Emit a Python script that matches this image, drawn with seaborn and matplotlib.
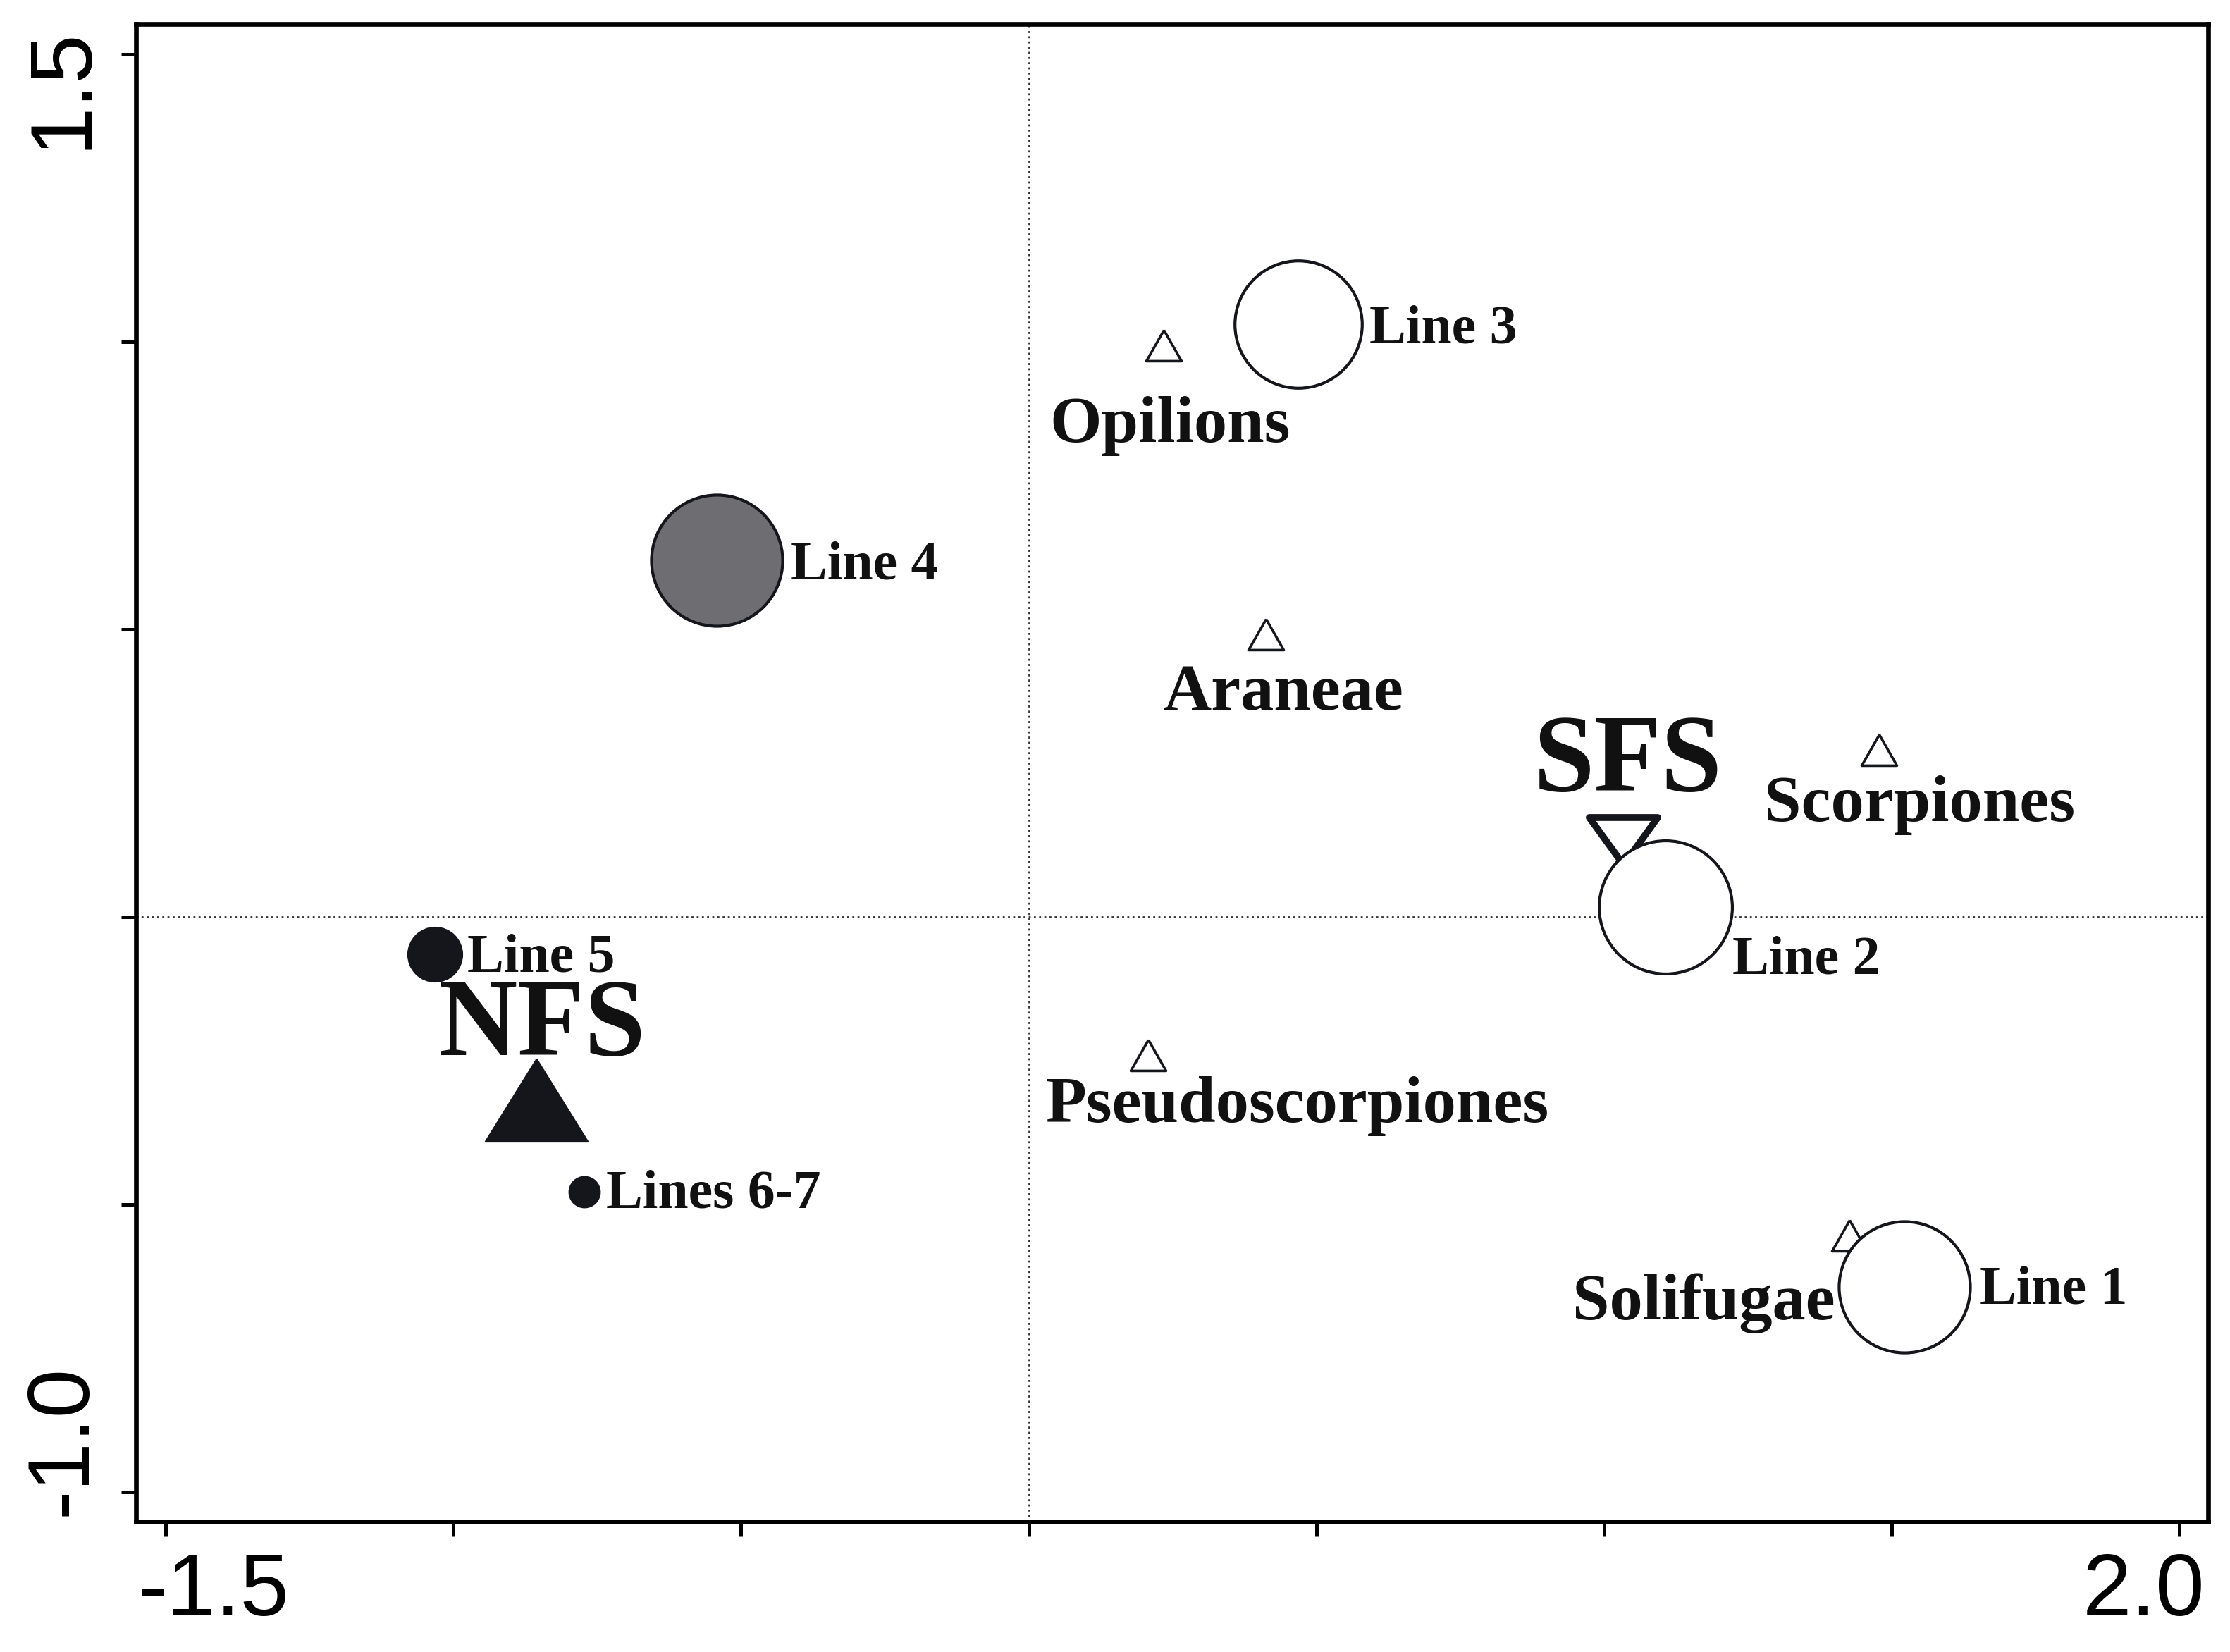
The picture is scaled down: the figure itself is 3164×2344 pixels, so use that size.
"""
Correspondence analysis biplot: sampling lines, arachnid orders and forest sites
"""

import numpy as np
import pandas as pd
import seaborn as sns
import matplotlib.pyplot as plt
from matplotlib.transforms import ScaledTranslation

# Sampling lines (axis 1 / axis 2 scores)
line_names = ["Line 1", "Line 2", "Line 3", "Line 4", "Line 5", "Lines 6-7"]
line_x = [1.522, 1.107, 0.469, -0.542, -1.032, -0.772]
line_y = [-0.643, 0.017, 1.031, 0.620, -0.065, -0.478]

# Arachnid orders
taxon_names = ["Opilions", "Araneae", "Scorpiones", "Pseudoscorpiones", "Solifugae"]
taxon_x = [0.234, 0.412, 1.478, 0.207, 1.426]
taxon_y = [0.994, 0.492, 0.291, -0.240, -0.554]

# Forest sites
site_names = ["SFS", "NFS"]
site_x = [1.033, -0.856]
site_y = [0.133, -0.319]

x_ticks = [-1.5, -1.0, -0.5, 0.0, 0.5, 1.0, 1.5, 2.0]
x_ticklabels = ["-1.5", "", "", "", "", "", "", "2.0"]
y_ticks = [-1.0, -0.5, 0.0, 0.5, 1.0, 1.5]
y_ticklabels = ["-1.0", "", "", "", "", "1.5"]

# ---- styling ----
INK = "#14161c"
SERIF = ["Liberation Serif", "DejaVu Serif"]

# marker diameter (pt) and fill for each line
line_style = {
    "Line 1": (67, "white"),
    "Line 2": (68, "white"),
    "Line 3": (65, "white"),
    "Line 4": (67, "#6d6d72"),
    "Line 5": (27, INK),
    "Lines 6-7": (15, INK),
}

# label offsets in points (dx, dy, ha)
label_offset = {
    "Line 1": (38.5, -8.7, "left"),
    "Line 2": (34.1, -34.1, "left"),
    "Line 3": (36.3, -9.4, "left"),
    "Line 4": (37.8, -9.4, "left"),
    "Line 5": (16.7, -8.7, "left"),
    "Lines 6-7": (10.9, -8.0, "left"),
    "Opilions": (-58.1, -49.4, "left"),
    "Araneae": (-52.3, -38.5, "left"),
    "Scorpiones": (-58.8, -36.3, "left"),
    "Pseudoscorpiones": (-52.3, -34.1, "left"),
    "Solifugae": (-7.3, -42.9, "right"),
    "SFS": (-45.8, 25.4, "left"),
    "NFS": (-50.1, 23.2, "left"),
}

# triangle markers (wider than tall)
small_tri = [(0, 1), (-1.14, -1), (1.14, -1), (0, 1)]
nfs_tri = [(0, 1), (-1.24, -1), (1.24, -1), (0, 1)]
sfs_tri = [(0, -1), (-1.45, 1), (1.45, 1), (0, -1)]

sns.set_style("white")
plt.rcParams["font.family"] = ["Liberation Sans", "DejaVu Sans"]

fig = plt.figure(figsize=(15.82, 11.72), dpi=200)
ax = fig.add_axes([0.061, 0.0789, 0.9292, 0.9066])

# reference lines through the origin
ax.axhline(0, ls=":", color="#333333", lw=1.0, zorder=0)
ax.axvline(0, ls=":", color="#333333", lw=1.0, zorder=0)

df_taxa = pd.DataFrame({"name": taxon_names, "x": taxon_x, "y": taxon_y})
df_sites = pd.DataFrame({"name": site_names, "x": site_x, "y": site_y})
df_lines = pd.DataFrame({"name": line_names, "x": line_x, "y": line_y})

# open triangles for taxa
sns.scatterplot(data=df_taxa, x="x", y="y", marker=small_tri, s=18 ** 2,
                color="white", edgecolor=INK, linewidth=1.3, ax=ax, zorder=2)

# forest sites
sfs = df_sites[df_sites["name"] == "SFS"]
nfs = df_sites[df_sites["name"] == "NFS"]
sns.scatterplot(data=sfs, x="x", y="y", marker=sfs_tri, s=35 ** 2,
                color="white", edgecolor=INK, linewidth=3.5, ax=ax, zorder=2)
sns.scatterplot(data=nfs, x="x", y="y", marker=nfs_tri, s=52 ** 2,
                color=INK, edgecolor=INK, linewidth=1.0, ax=ax, zorder=2)

# sampling lines
for name in line_names:
    size, fill = line_style[name]
    row = df_lines[df_lines["name"] == name]
    sns.scatterplot(data=row, x="x", y="y", marker="o", s=size ** 2,
                    color=fill, edgecolor=INK, linewidth=1.5, ax=ax, zorder=3)

# labels
def add_labels(df, fontsize):
    for _, r in df.iterrows():
        dx, dy, ha = label_offset[r["name"]]
        ax.annotate(r["name"], (r["x"], r["y"]), xytext=(dx, dy),
                    textcoords="offset points", ha=ha, va="baseline",
                    fontsize=fontsize, fontweight="bold", family=SERIF,
                    color="#111111", zorder=4)

add_labels(df_lines, 28)
add_labels(df_taxa, 34)
add_labels(df_sites, 56)

ax.set_xlim(-1.5515, 2.050)
ax.set_ylim(-1.0515, 1.553)
ax.set_xlabel("")
ax.set_ylabel("")

ax.set_xticks(x_ticks, x_ticklabels)
ax.set_yticks(y_ticks, y_ticklabels, rotation=90, va="center")
ax.tick_params(bottom=True, left=True, top=False, right=False,
               direction="out", length=7.5, width=1.8, labelsize=45,
               color="black", labelcolor="black")
ax.tick_params(axis="x", pad=8)
ax.tick_params(axis="y", pad=9)

for spine in ax.spines.values():
    spine.set_visible(True)
    spine.set_linewidth(2.4)
    spine.set_color("black")

# end labels sit slightly inside their ticks
shift_x = {"-1.5": 24.5, "2.0": -18.4}
shift_y = {"-1.0": 26.6, "1.5": -17.3}
for tick in ax.xaxis.get_major_ticks():
    t = tick.label1.get_text()
    if t in shift_x:
        tick.label1.set_transform(tick.label1.get_transform() +
                                  ScaledTranslation(shift_x[t] / 72, 0, fig.dpi_scale_trans))
for tick in ax.yaxis.get_major_ticks():
    t = tick.label1.get_text()
    if t in shift_y:
        tick.label1.set_transform(tick.label1.get_transform() +
                                  ScaledTranslation(0, shift_y[t] / 72, fig.dpi_scale_trans))

fig.savefig("out.png", dpi=200, facecolor="white")
